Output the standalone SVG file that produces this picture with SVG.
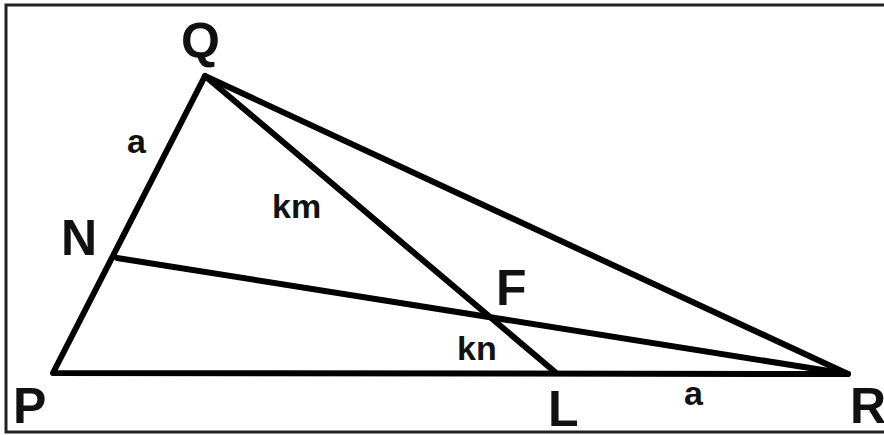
<svg xmlns="http://www.w3.org/2000/svg" width="884" height="435" viewBox="0 0 884 435">
<style>
.ln{stroke:#000;stroke-width:6;stroke-linecap:round;stroke-linejoin:round;fill:none}
.big{font-family:"Liberation Sans",Arial,sans-serif;font-weight:bold;font-size:50px;fill:#111}
.sm{font-family:"Liberation Sans",Arial,sans-serif;font-weight:bold;font-size:34px;fill:#111}
</style>
<rect x="0" y="0" width="884" height="435" fill="#fff"/>
<rect x="6" y="5" width="900" height="427" fill="none" stroke="#222" stroke-width="3"/>
<g id="connectors">
<path class="ln" d="M53,373 L205,76 L848,374 Z"/>
<path class="ln" d="M205,76 L555,372"/>
<path class="ln" d="M117,258 L848,374"/>
</g>
<g id="Q"><text class="big" x="181" y="58">Q</text></g>
<g id="N"><text class="big" x="61" y="255">N</text></g>
<g id="P"><text class="big" x="13" y="423">P</text></g>
<g id="L"><text class="big" x="548" y="426">L</text></g>
<g id="F"><text class="big" x="496" y="305">F</text></g>
<g id="R"><text class="big" x="850" y="423">R</text></g>
<g id="labels">
<text class="sm" x="127" y="153">a</text>
<text class="sm" x="272" y="218">km</text>
<text class="sm" x="457" y="360">kn</text>
<text class="sm" x="684" y="405">a</text>
</g>
</svg>
